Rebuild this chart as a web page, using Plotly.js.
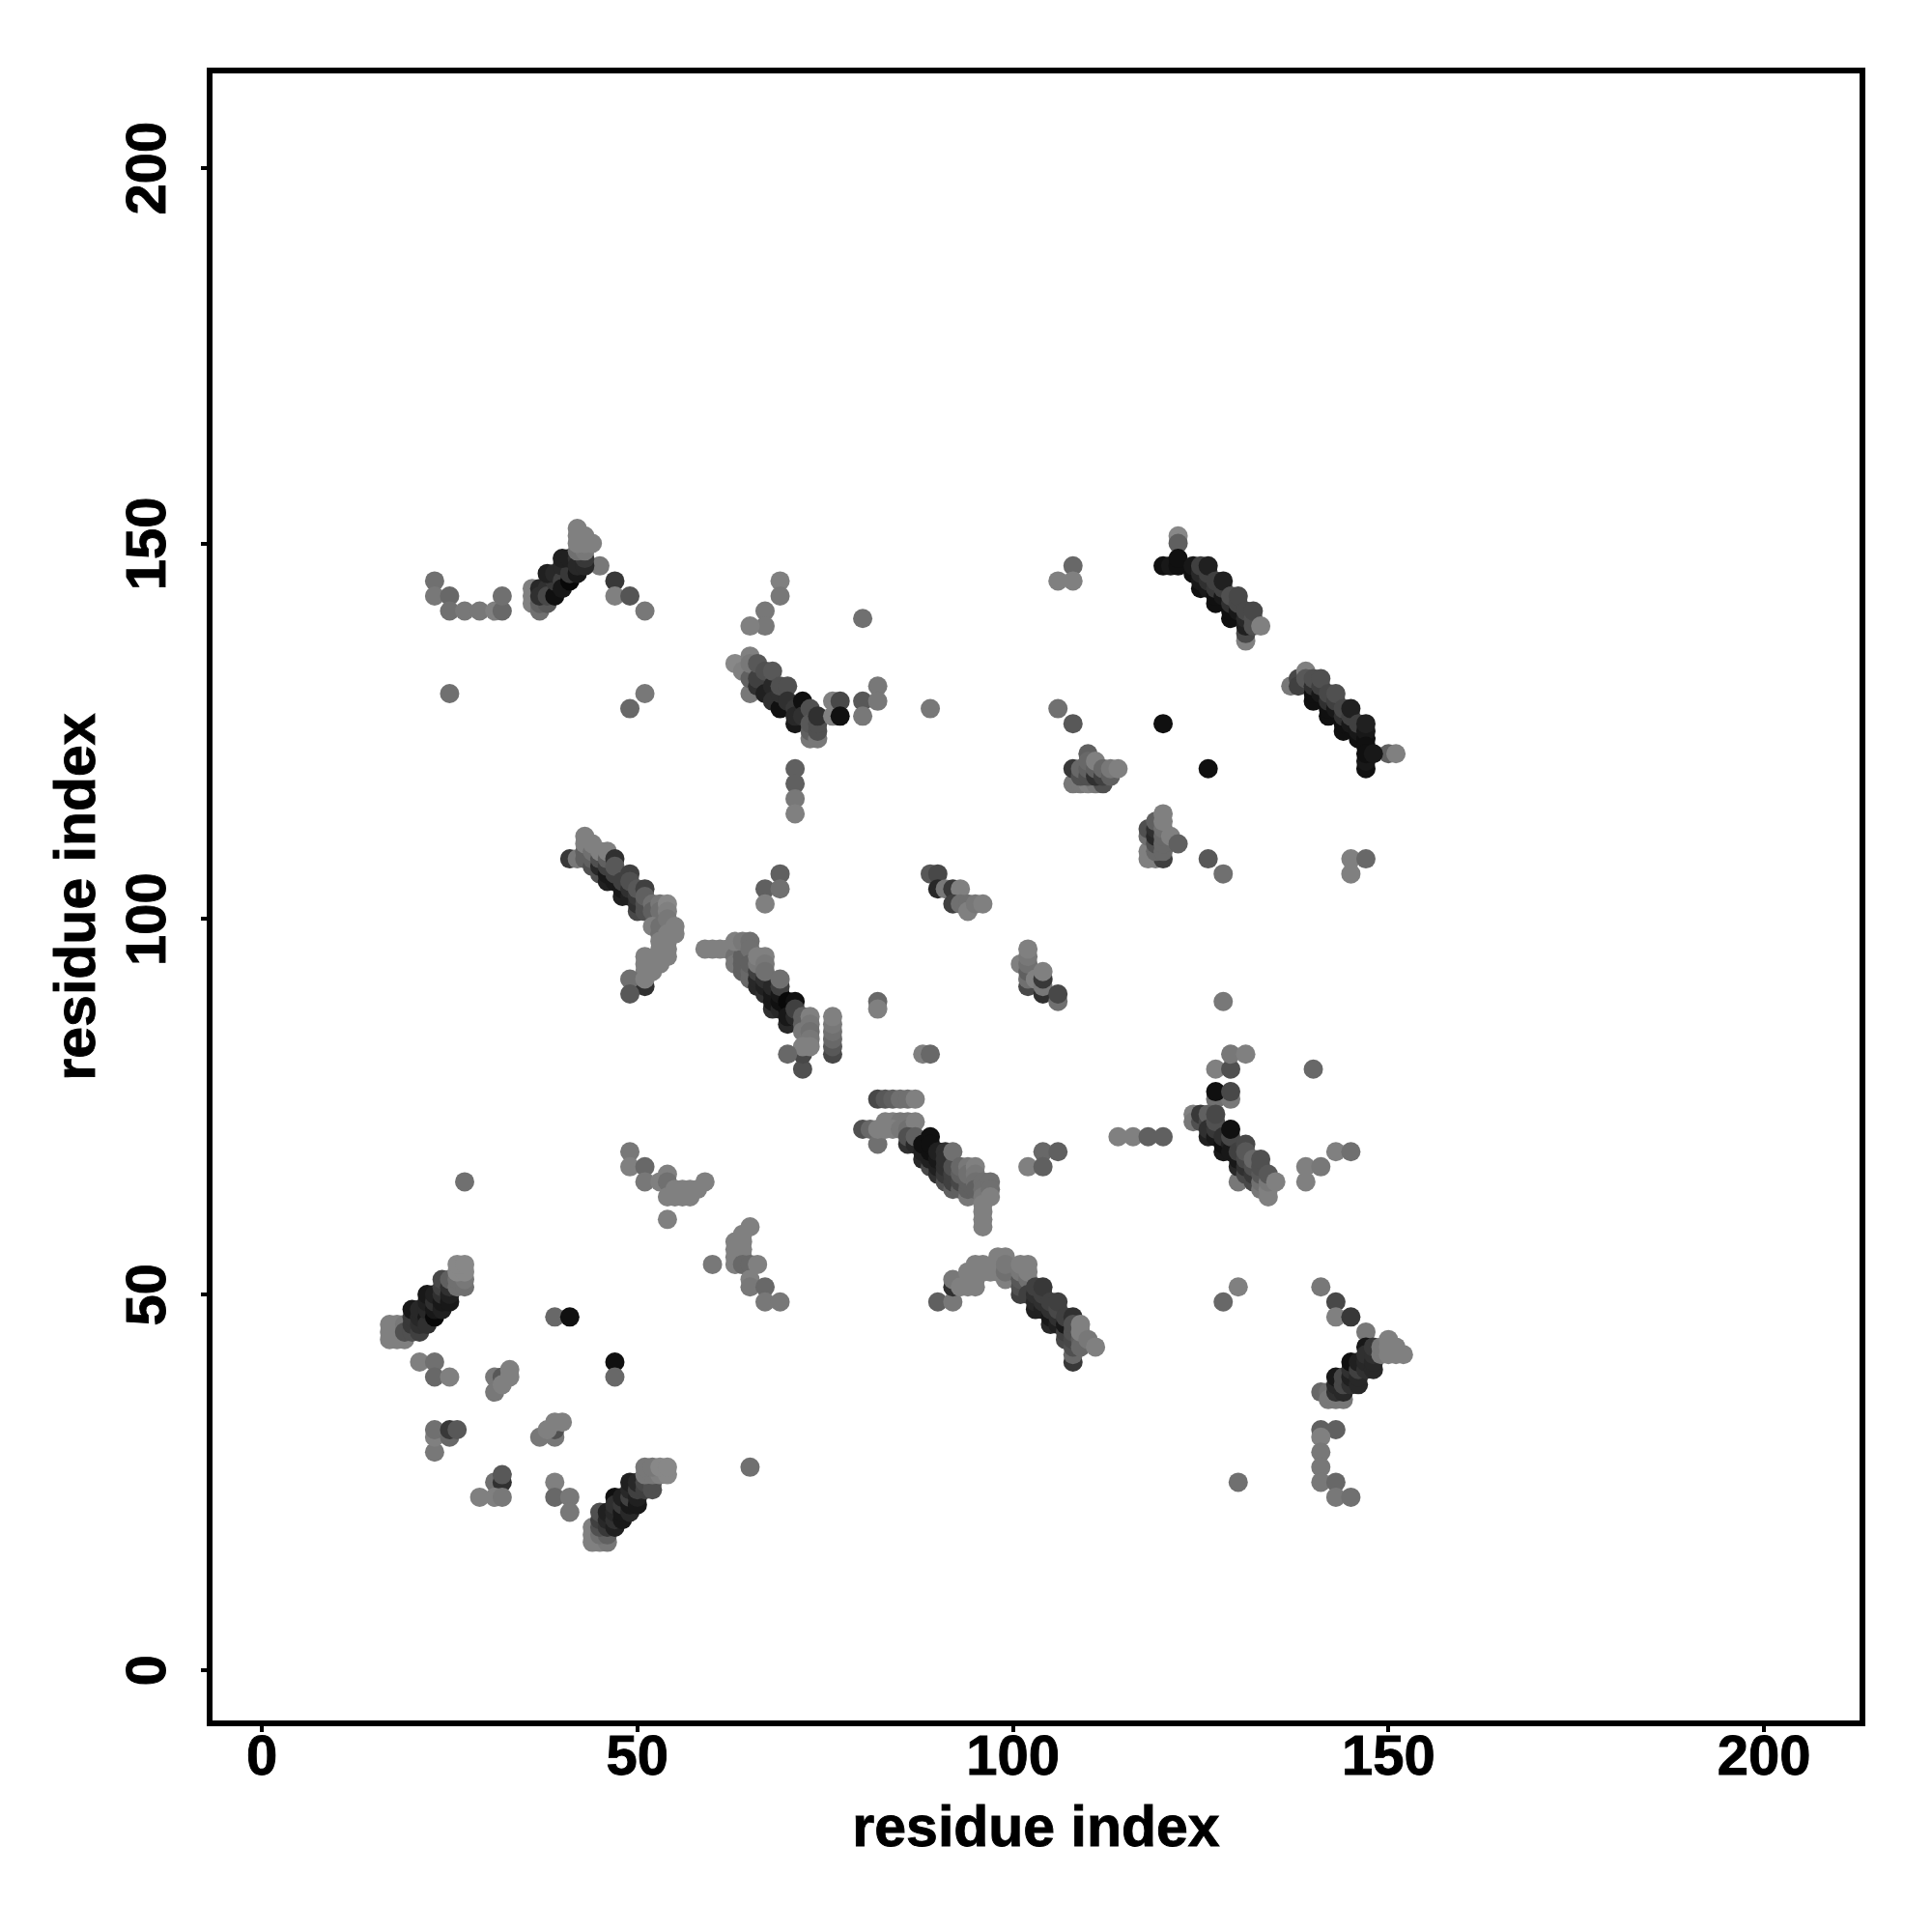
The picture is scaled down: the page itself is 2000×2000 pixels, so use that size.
<!DOCTYPE html>
<html><head><meta charset="utf-8">
<script src="https://cdn.plot.ly/plotly-3.0.1.min.js"></script>
<style>html,body{margin:0;padding:0;background:#fff}
.xtick text,.ytick text,.xtitle,.ytitle{stroke:#000;stroke-width:0.9px}</style></head>
<body><div id="chart" style="width:2000px;height:2000px"></div>
<script>
// Each contact: [residue i, residue j, grey level]
const topLeft = [[23,145,0x70],[23,143,0x78],[25,143,0x68],[25,141,0x70],[27,141,0x78],[29,141,0x78],[31,141,0x80],[32,141,0x68],[32,143,0x70],
 [25,130,0x70],[51,130,0x78],[49,128,0x68],[47,145,0x38],[47,143,0x80],[49,143,0x55],[51,141,0x78],[45,147,0x78]];
const bandB = [[36,144,0x80],[36,143,0x80],[36,142,0x80],[37,141,0x70],[37,142,0x60],[38,142,0x58],[37,144,0x28],[37,143,0x30],[38,144,0x30],[38,143,0x48],
 [39,143,0x10],[39,145,0x38],[38,146,0x20],[39,146,0x28],[40,145,0x40],[40,144,0x18],[41,145,0x08],[40,147,0x28],[41,146,0x38],[42,146,0x18],[40,148,0x20],[41,148,0x20],[42,148,0x30],[42,147,0x28],[43,147,0x28],[43,148,0x38],
 [42,149,0x70],[43,149,0x78],[42,150,0x80],[43,150,0x80],[44,150,0x80],[43,151,0x80],[42,151,0x80],[42,152,0x80]];
const bandC = [[69,145,0x80],[69,143,0x78],[67,141,0x78],[67,139,0x78],[65,139,0x80],[80,140,0x70],
 [63,134,0x88],[64,133,0x80],[65,130,0x78],[65,132,0x60],[65,135,0x80],[65,134,0x78],[66,131,0x30],[66,132,0x40],[66,134,0x58],[67,133,0x50],[67,130,0x20],[68,131,0x28],[68,133,0x58],[68,129,0x30],[69,128,0x10],[69,130,0x30],[69,131,0x50],[70,131,0x50],[70,129,0x30],[71,128,0x38],[71,126,0x18],[71,127,0x28],[72,129,0x10],[72,127,0x30],[73,128,0x50],[73,124,0x78],[73,125,0x60],[73,126,0x58],[74,124,0x78],[74,125,0x50],[74,126,0x50],[74,127,0x30],
 [76,129,0x80],[76,127,0x80],[77,129,0x48],[77,127,0x10],[80,129,0x58],[80,127,0x78],[82,131,0x78],[82,129,0x78],[71,120,0x60],[71,118,0x60],[71,116,0x78],[71,114,0x80]];
const bandD = [[41,108,0x38],[42,108,0x78],[43,109,0x60],[43,108,0x60],[43,111,0x80],[43,110,0x80],[44,107,0x50],[44,108,0x60],[44,109,0x70],[44,110,0x80],[45,106,0x50],[45,107,0x28],[45,108,0x50],[45,109,0x80],[46,105,0x20],[46,106,0x18],[46,107,0x40],[46,108,0x60],[46,109,0x80],[47,105,0x18],[47,106,0x40],[47,108,0x30],[47,107,0x58],[48,103,0x20],[48,104,0x18],[48,105,0x40],[49,106,0x40],[49,103,0x20],[49,104,0x30],[49,105,0x50],[50,101,0x48],[50,102,0x30],[50,103,0x38],[50,104,0x58],[51,104,0x40],[51,101,0x50],[51,102,0x50],[51,103,0x60],[52,102,0x70],[52,101,0x60],[53,102,0x78],[53,101,0x70],[54,102,0x88],[54,101,0x80],
 [52,99,0x80],[53,98,0x70],[53,99,0x70],[54,100,0x78],[54,98,0x80],[55,99,0x80],[55,98,0x80],[53,97,0x80],[54,97,0x80],[53,96,0x80],[54,96,0x80],[53,95,0x80],[54,95,0x80],[52,94,0x80],[53,94,0x80],[51,95,0x80],[51,94,0x80],[51,93,0x80],[52,93,0x80],[51,91,0x30],[49,92,0x70],[51,92,0x80],[49,90,0x58]];
const upperMid = [[69,106,0x60],[67,104,0x60],[69,104,0x70],[67,102,0x80],[89,106,0x58],[90,106,0x48],[90,104,0x28],[91,104,0x78],[92,104,0x38],[93,104,0x80],[92,102,0x40],[93,102,0x70],[94,102,0x70],[94,101,0x80],[95,102,0x78],[96,102,0x80],
 [82,89,0x68],[82,88,0x80],[88,82,0x80],[89,82,0x68]];
const midCluster = [[102,91,0x48],[102,92,0x70],[104,90,0x30],[101,94,0x80],[102,93,0x60],[102,94,0x70],[102,95,0x78],[102,96,0x80],[103,92,0x80],[104,91,0x78],[104,92,0x38],[104,93,0x80],[106,89,0x70],[106,90,0x48]];
const bandE = [[59,96,0x80],[60,96,0x80],[61,96,0x80],[62,96,0x80],[63,96,0x80],[63,95,0x70],[63,94,0x78],[64,93,0x60],[64,94,0x60],[64,95,0x60],[63,97,0x80],[64,97,0x78],[65,97,0x70],[65,96,0x70],[65,92,0x68],[65,93,0x68],[65,94,0x60],[66,91,0x28],[66,92,0x28],[66,93,0x40],[67,90,0x30],[67,91,0x20],[67,92,0x30],[68,88,0x30],[68,89,0x18],[68,90,0x18],[68,91,0x28],[66,94,0x78],[66,95,0x80],[67,95,0x80],[67,94,0x78],[67,93,0x70],[69,88,0x28],[69,89,0x10],[69,90,0x18],[69,91,0x40],[69,92,0x70],[70,88,0x10],[70,89,0x08],[71,89,0x10],[70,86,0x28],[70,87,0x18],[71,87,0x28],[71,88,0x40],[72,87,0x60],[72,86,0x60],[72,85,0x78],[73,87,0x80],[73,86,0x78],[73,85,0x70],[73,84,0x78],[72,80,0x50],[72,82,0x48],[73,83,0x80],[72,83,0x80],[70,82,0x68],
 [76,82,0x48],[76,83,0x58],[76,84,0x68],[76,85,0x70],[76,86,0x78],[76,87,0x80]];
const bandF = [[82,76,0x48],[83,76,0x58],[84,76,0x60],[85,76,0x70],[86,76,0x70],[87,76,0x80],
 [80,72,0x50],[81,72,0x68],[82,70,0x70],[83,73,0x80],[84,73,0x80],[85,73,0x78],[86,73,0x78],[82,72,0x80],[83,72,0x80],[84,72,0x80],[85,72,0x78],[86,72,0x70],[87,73,0x80],[86,70,0x30],[86,71,0x50],[87,70,0x28],[87,71,0x60],[88,68,0x28],[88,69,0x20],[88,70,0x10],[89,67,0x48],[89,68,0x20],[89,69,0x10],[89,71,0x10],[89,70,0x10],[90,66,0x30],[90,67,0x20],[90,68,0x18],[90,69,0x20],[91,65,0x50],[91,66,0x38],[91,67,0x30],[91,69,0x30],[91,68,0x30],[92,64,0x60],[92,65,0x40],[92,66,0x40],[92,67,0x50],[92,69,0x70],[93,64,0x60],[93,65,0x48],[93,66,0x60],[93,67,0x68],[94,63,0x78],[94,64,0x60],[94,65,0x60],[94,67,0x78],[94,66,0x70],[95,67,0x80],[95,66,0x78],[95,65,0x70],[95,64,0x60],[96,65,0x70],[96,64,0x70],[96,63,0x78],[96,62,0x80],[96,61,0x80],[96,60,0x80],[96,59,0x80],[97,65,0x70],[97,64,0x70],[97,63,0x80]];
const bandL = [[90,49,0x60],[92,49,0x78],[92,51,0x30],[92,52,0x78],[93,51,0x80],[94,51,0x80],[94,53,0x80],[95,51,0x80],[95,52,0x80],[95,54,0x80],[96,54,0x80],[96,53,0x80],[97,53,0x80],[98,53,0x80],[98,55,0x80],[99,55,0x80],[99,52,0x80],[99,53,0x70],[99,54,0x78],
 [101,50,0x40],[101,51,0x50],[101,52,0x58],[101,53,0x78],[102,52,0x70],[102,53,0x80],[101,54,0x80],[102,54,0x80],[102,50,0x40],[103,48,0x20],[103,49,0x28],[103,50,0x30],[103,51,0x40],[104,48,0x20],[104,49,0x30],[104,50,0x40],[104,51,0x38],[105,46,0x28],[105,47,0x18],[105,48,0x30],[105,49,0x40],[106,46,0x20],[106,47,0x30],[106,48,0x48],[106,49,0x40],[107,44,0x48],[107,45,0x40],[107,46,0x18],[107,47,0x40],[108,41,0x38],[108,42,0x68],[108,43,0x50],[108,44,0x48],[108,45,0x50],[108,47,0x30],[108,46,0x50],[109,44,0x60],[109,43,0x68],[109,45,0x80],[109,46,0x80],[110,44,0x78],[111,43,0x80]];
const bandR = [[127,80,0x80],[129,80,0x50],[129,82,0x78],[131,82,0x80],[140,80,0x68],[127,76,0x70],[129,76,0x78],[127,77,0x10],[129,77,0x48],[114,71,0x80],[116,71,0x80],[118,71,0x60],[120,71,0x60],
 [124,74,0x80],[124,73,0x78],[125,73,0x50],[125,74,0x38],[126,73,0x48],[126,74,0x60],[126,71,0x20],[126,72,0x30],[127,71,0x18],[127,72,0x38],[127,73,0x50],[127,74,0x48],[128,69,0x18],[128,70,0x10],[128,71,0x30],[129,70,0x20],[129,69,0x18],[129,71,0x48],[129,72,0x10],[130,65,0x78],[130,67,0x28],[130,68,0x18],[130,69,0x40],[131,66,0x48],[131,67,0x30],[131,68,0x48],[131,70,0x48],[131,69,0x58],[132,65,0x48],[132,66,0x38],[132,67,0x50],[132,68,0x68],[133,64,0x78],[133,65,0x70],[133,66,0x58],[133,67,0x50],[133,68,0x50],[134,63,0x80],[134,64,0x80],[134,65,0x78],[134,66,0x58],[135,65,0x80],
 [139,67,0x80],[139,65,0x80],[141,67,0x78],[143,69,0x80],[145,69,0x70],[104,69,0x68],[106,69,0x60],[102,67,0x80],[104,67,0x60],[128,49,0x68],[130,51,0x80]];
const rightLower = [[141,51,0x78],[143,49,0x48],[143,47,0x80],[145,47,0x38],[147,45,0x78],[141,37,0x68],[142,37,0x70],[142,36,0x78],[143,36,0x78],[144,36,0x78],[143,37,0x30],[143,38,0x28],[143,39,0x18],[144,37,0x28],[144,38,0x48],[144,39,0x48],[145,38,0x30],[145,39,0x20],[145,40,0x30],[145,41,0x10],[146,38,0x28],[146,39,0x28],[146,40,0x40],[146,41,0x20],[147,40,0x30],[147,41,0x28],[147,43,0x18],[147,42,0x30],[148,40,0x28],[148,41,0x28],[148,42,0x30],[148,43,0x38],[149,42,0x78],[149,43,0x78],[150,42,0x80],[150,43,0x80],[150,44,0x80],[151,43,0x80],[152,42,0x80],[151,42,0x80],
 [141,32,0x60],[143,32,0x60],[141,31,0x80],[141,29,0x78],[141,27,0x78],[141,25,0x78],[143,25,0x68],[143,23,0x78],[145,23,0x70],[130,25,0x70]];
const bandG = [[17,46,0x80],[17,45,0x80],[17,44,0x80],[18,46,0x80],[18,45,0x80],[18,44,0x80],[19,46,0x78],[19,44,0x80],[19,45,0x50],[20,45,0x50],[20,46,0x38],[20,47,0x38],[20,48,0x18],[21,45,0x40],[21,46,0x30],[21,47,0x28],[21,48,0x28],[22,47,0x18],[22,46,0x30],[22,48,0x28],[22,49,0x20],[22,50,0x18],[23,47,0x08],[23,48,0x18],[23,49,0x30],[23,50,0x20],[24,48,0x20],[24,49,0x18],[24,50,0x30],[24,51,0x40],[24,52,0x48],[25,49,0x18],[25,50,0x20],[25,51,0x30],[25,52,0x60],[26,51,0x70],[26,52,0x70],[27,51,0x70],[27,52,0x78],[26,53,0x88],[27,53,0x88],[26,54,0x88],[27,54,0x88]];
const lowerLeft = [[27,65,0x70],[39,47,0x68],[41,47,0x10],[47,41,0x10],[47,39,0x68],[21,41,0x80],[23,41,0x70],[23,39,0x68],[25,39,0x80],[31,39,0x78],[31,37,0x78],[32,39,0x58],[32,38,0x80],[33,39,0x80],[33,40,0x80],
 [23,29,0x78],[23,31,0x80],[23,32,0x70],[25,31,0x68],[25,32,0x38],[26,32,0x58],[37,31,0x78],[39,31,0x78],[39,32,0x50],[38,32,0x80],[39,33,0x80],[40,33,0x80],[31,25,0x70],[32,25,0x30],[32,26,0x58],[29,23,0x80],[31,23,0x80],[32,23,0x78],[39,25,0x80],[39,23,0x68],[41,23,0x78],[41,21,0x78],[65,27,0x70]];
const bandH = [[44,19,0x80],[44,18,0x80],[44,17,0x80],[45,17,0x80],[46,17,0x78],[45,18,0x70],[46,18,0x60],[45,19,0x50],[45,20,0x40],[45,21,0x50],[46,19,0x38],[46,20,0x28],[46,21,0x20],[47,19,0x20],[47,20,0x30],[47,21,0x28],[47,23,0x10],[47,22,0x30],[48,20,0x18],[48,21,0x18],[48,22,0x38],[48,23,0x20],[49,21,0x28],[49,22,0x18],[49,23,0x40],[49,24,0x28],[49,25,0x20],[50,22,0x18],[50,23,0x20],[50,24,0x40],[50,25,0x28],[51,24,0x40],[51,25,0x48],[52,24,0x50],[52,25,0x50],[51,26,0x78],[52,26,0x78],[53,26,0x80],[54,26,0x88],[51,27,0x78],[52,27,0x78],[53,27,0x88],[54,27,0x88]];
const midLeft = [[49,69,0x78],[49,67,0x80],[51,67,0x68],[51,65,0x78],[53,65,0x80],[54,66,0x80],[54,65,0x70],[54,63,0x80],[55,63,0x80],[56,63,0x80],[57,63,0x80],[55,64,0x80],[56,64,0x80],[57,64,0x80],[58,64,0x80],[59,65,0x80],[54,60,0x80],
 [65,59,0x80],[64,58,0x80],[63,57,0x80],[64,57,0x80],[63,56,0x80],[64,56,0x80],[63,55,0x80],[63,54,0x80],[64,55,0x80],[64,54,0x68],[65,54,0x68],[66,54,0x80],[60,54,0x78],[65,52,0x80],[65,51,0x78],[67,51,0x68],[67,49,0x78],[69,49,0x78]];
const rightUpper = [[108,147,0x68],[106,145,0x80],[108,145,0x80],[106,128,0x70],[108,126,0x58],[120,126,0x10],[126,120,0x10],[89,128,0x78],
 [108,118,0x78],[109,118,0x78],[110,118,0x80],[111,118,0x78],[112,118,0x50],[108,120,0x38],[109,119,0x50],[109,120,0x68],[110,119,0x50],[110,120,0x60],[110,122,0x60],[110,121,0x68],[111,119,0x30],[111,120,0x60],[111,121,0x80],[112,119,0x40],[112,120,0x68],[113,119,0x60],[113,120,0x78],[114,120,0x80],
 [118,108,0x80],[118,109,0x80],[119,108,0x80],[120,108,0x40],[118,111,0x70],[118,112,0x50],[119,109,0x68],[119,110,0x50],[119,111,0x28],[119,112,0x30],[119,113,0x60],[120,109,0x68],[120,110,0x68],[120,111,0x68],[120,112,0x70],[120,113,0x80],[120,114,0x80],[121,111,0x80],[122,110,0x60],
 [126,108,0x58],[128,106,0x70],[145,108,0x80],[145,106,0x80],[147,108,0x68],[128,89,0x78]];
const bandT = [[122,151,0x88],[122,150,0x60],[120,147,0x10],[121,147,0x18],[122,147,0x10],[122,148,0x10],[124,146,0x10],[124,147,0x18],[125,144,0x10],[125,145,0x18],[125,146,0x28],[125,147,0x40],[126,144,0x18],[126,145,0x30],[126,146,0x40],[126,147,0x20],[127,142,0x10],[127,143,0x10],[127,144,0x38],[127,145,0x40],[128,143,0x18],[128,144,0x40],[128,145,0x20],[129,140,0x10],[129,141,0x10],[129,142,0x30],[129,143,0x50],[130,141,0x18],[130,142,0x48],[130,143,0x48],[131,137,0x80],[131,138,0x48],[131,139,0x20],[131,140,0x28],[131,141,0x48],[132,139,0x50],[132,140,0x50],[132,141,0x48],[133,139,0x80]];
const bandK = [[137,131,0x78],[138,132,0x48],[138,131,0x40],[139,133,0x80],[139,132,0x58],[140,129,0x10],[140,130,0x10],[140,131,0x30],[140,132,0x50],[141,130,0x18],[141,131,0x40],[141,132,0x50],[142,127,0x10],[142,128,0x10],[142,129,0x30],[142,130,0x48],[143,128,0x18],[143,129,0x40],[143,130,0x50],[144,125,0x10],[144,126,0x10],[144,127,0x30],[144,128,0x48],[145,126,0x18],[145,127,0x40],[145,128,0x20],[146,124,0x10],[146,125,0x18],[146,126,0x40],[147,124,0x10],[147,125,0x18],[147,126,0x20],[150,122,0x60],[151,122,0x80],[147,123,0x10],[147,120,0x10],[147,121,0x18],[147,122,0x10],[148,122,0x18]];

const tickValues = [0, 50, 100, 150, 200];
const axisLabel = 'residue index';

const contacts = [].concat(topLeft, bandB, bandC, bandD, upperMid, midCluster, bandE, bandF, bandL, bandR, rightLower, bandG, lowerLeft, bandH, midLeft, rightUpper, bandT, bandK);
const tickFont = {family: '"Liberation Sans", Arial, sans-serif', size: 58, color: '#000', weight: 700};
const titleFont = {family: '"Liberation Sans", Arial, sans-serif', size: 59, color: '#000', weight: 700};
const axisCommon = {tickvals: tickValues, ticktext: tickValues.map(String), ticks: 'outside', ticklen: 6, tickwidth: 4,
  tickcolor: '#000', showline: true, linecolor: '#000', linewidth: 6, mirror: true, showgrid: false, zeroline: false, tickfont: tickFont};
Plotly.newPlot('chart', [{
  type: 'scatter', mode: 'markers',
  x: contacts.map(c => c[0]), y: contacts.map(c => c[1]),
  marker: {size: 20, line: {width: 0}, opacity: 1,
    color: contacts.map(c => `rgb(${c[2]},${c[2]},${c[2]})`)},
  hoverinfo: 'skip'
}], {
  width: 2000, height: 2000, showlegend: false,
  paper_bgcolor: '#fff', plot_bgcolor: '#fff',
  margin: {l: 220, r: 75, t: 76, b: 219, pad: 0},
  xaxis: Object.assign({}, axisCommon, {range: [-6.57, 212.73], title: {text: axisLabel, font: titleFont, standoff: 24}, ticklabelstandoff: -26, automargin: false}),
  yaxis: Object.assign({}, axisCommon, {range: [-6.72, 212.58], title: {text: axisLabel, font: titleFont, standoff: 2}, tickangle: -90, ticklabelstandoff: 14, ticklabelshift: 9, automargin: false})
}, {displayModeBar: false, staticPlot: true});
</script></body></html>
